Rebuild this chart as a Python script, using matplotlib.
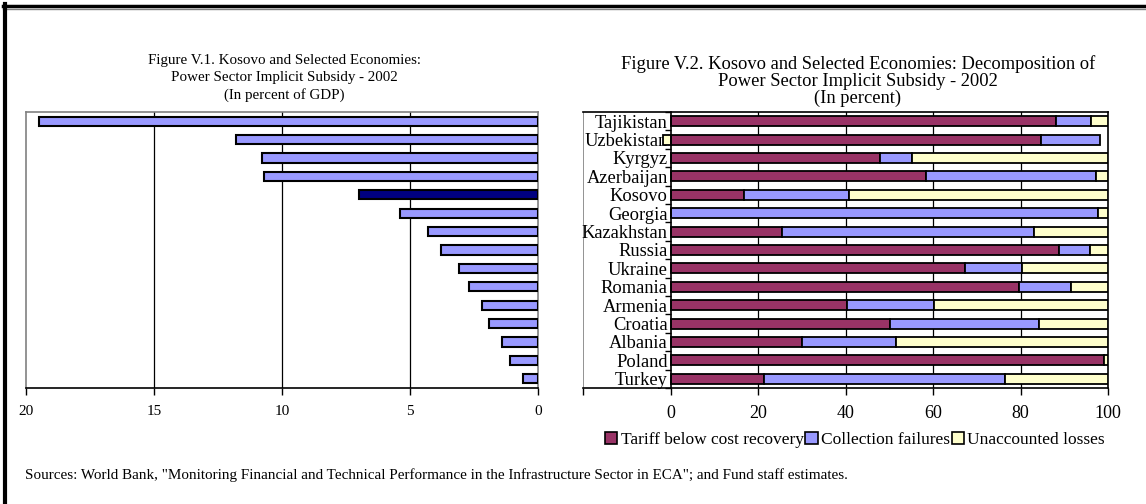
import matplotlib.pyplot as plt
from matplotlib.lines import Line2D
from matplotlib.patches import Patch
import numpy as np

plt.rcParams['font.family'] = ['Liberation Serif', 'DejaVu Serif']

countries = ["Tajikistan", "Uzbekistan", "Kyrgyz", "Azerbaijan", "Kosovo",
             "Georgia", "Kazakhstan", "Russia", "Ukraine", "Romania",
             "Armenia", "Croatia", "Albania", "Poland", "Turkey"]

# Figure V.1: subsidy in percent of GDP (same country order, labels hidden)
subsidy_gdp = [19.5, 11.8, 10.8, 10.7, 7.0, 5.4, 4.3, 3.8, 3.1, 2.7,
               2.2, 1.9, 1.4, 1.1, 0.6]
highlight = "Kosovo"

# Figure V.2: decomposition, in percent
tariff = [88.0, 84.6, 47.8, 58.5, 16.8, 0.0, 25.4, 88.9, 67.3, 79.7,
          40.3, 50.2, 30.1, 99.1, 21.4]
collection = [8.2, 13.6, 7.3, 38.7, 23.9, 97.6, 57.7, 7.0, 13.0, 11.8,
              19.9, 34.0, 21.5, 0.0, 55.0]
unaccounted = [3.8, -1.8, 44.9, 2.8, 59.3, 2.4, 16.9, 4.1, 19.7, 8.5,
               39.8, 15.8, 48.4, 0.9, 23.6]
series_names = ["Tariff below cost recovery", "Collection failures",
                "Unaccounted losses"]
series_colors = ["#993366", "#9999FF", "#FFFFCC"]

W, H = 1146, 504
fig = plt.figure(figsize=(W / 100, H / 100), dpi=100)


def fx(px):
    return px / W


def fy(py):
    return 1 - py / H


top_px, bot_px = 112, 388
grey = "#808080"

# ---- left chart
ax1 = fig.add_axes([fx(26), fy(bot_px), fx(538 - 26), (bot_px - top_px) / H])
y = np.arange(len(countries))
colors1 = ["#000080" if c == highlight else "#9999FF" for c in countries]
ax1.barh(y, subsidy_gdp, height=0.5, color=colors1, edgecolor="black",
         linewidth=1.5, zorder=3)
ax1.set_xlim(20, 0)
ax1.set_ylim(len(countries) - 0.5, -0.5)
ax1.set_yticks([])
ax1.set_xticks([20, 15, 10, 5, 0])
ax1.set_xticklabels(["20", "15", "10", "5", "0"], fontsize=11)
ax1.tick_params(axis="x", direction="out", length=5, width=1, pad=7)
for v in [15, 10, 5]:
    ax1.axvline(v, color="black", linewidth=0.9, zorder=1)
for s in ["top", "left", "right"]:
    ax1.spines[s].set_color(grey)
    ax1.spines[s].set_linewidth(1.2)
ax1.spines["bottom"].set_linewidth(1.2)
fig.text(fx(284), fy(54), "Figure V.1. Kosovo and Selected Economies:\n"
         "Power Sector Implicit Subsidy - 2002\n(In percent of GDP)",
         ha="center", va="top", fontsize=10.8, linespacing=1.4)

# ---- right chart
ax2 = fig.add_axes([fx(583), fy(bot_px), fx(1108 - 583), (bot_px - top_px) / H])
pos_left = np.zeros(len(countries))
neg_left = np.zeros(len(countries))
for vals, col in zip([tariff, collection, unaccounted], series_colors):
    vals = np.array(vals)
    left = np.where(vals >= 0, pos_left, neg_left)
    ax2.barh(y, vals, left=left, height=0.55, color=col, edgecolor="black",
             linewidth=1.3, zorder=3)
    pos_left = pos_left + np.where(vals >= 0, vals, 0)
    neg_left = neg_left + np.where(vals < 0, vals, 0)
ax2.set_xlim(-20, 100)
ax2.set_ylim(len(countries) - 0.5, -0.5)
ax2.set_xticks([-20, 0, 20, 40, 60, 80, 100])
ax2.set_xticklabels(["", "0", "20", "40", "60", "80", "100"], fontsize=13)
ax2.tick_params(axis="x", direction="out", length=5, width=1, pad=7)
for v in [20, 40, 60, 80]:
    ax2.axvline(v, color="black", linewidth=0.9, zorder=1)
ax2.spines["left"].set_position(("data", 0))
ax2.spines["left"].set_zorder(4)
ax2.spines["left"].set_linewidth(1.2)
ax2.set_yticks(y)
ax2.set_yticklabels(countries, fontsize=13.3)
ax2.set_yticks(np.arange(len(countries) + 1) - 0.5, minor=True)
ax2.tick_params(axis="y", which="major", length=0, pad=2)
ax2.tick_params(axis="y", which="minor", direction="out", length=4, width=1)
ax2.axvline(-20, color=grey, linewidth=1.2, zorder=1)
ax2.spines["top"].set_linewidth(1.2)
ax2.spines["right"].set_linewidth(1.2)
ax2.spines["bottom"].set_linewidth(1.2)
fig.text(fx(858), fy(55), "Figure V.2. Kosovo and Selected Economies: Decomposition of\n"
         "Power Sector Implicit Subsidy - 2002\n(In percent)",
         ha="center", va="top", fontsize=13.3, linespacing=1.0)

handles = [Patch(facecolor=c, edgecolor="black", linewidth=1.2) for c in series_colors]
fig.legend(handles, series_names, loc="center", bbox_to_anchor=(fx(855), fy(440)),
           ncol=3, frameon=False, fontsize=12.5, handlelength=0.7,
           handleheight=0.7, handletextpad=0.2, columnspacing=0.1,
           borderaxespad=0)

fig.text(fx(25), fy(475), 'Sources: World Bank, "Monitoring Financial and Technical '
         'Performance in the Infrastructure Sector in ECA"; and Fund staff estimates.',
         ha="left", va="center", fontsize=10.9)

# outer frame (top and left edges)
fig.add_artist(Line2D([fx(3), 1], [fy(6), fy(6)], color="black", linewidth=2.5))
fig.add_artist(Line2D([fx(3), 1], [fy(9), fy(9)], color=grey, linewidth=1.0))
fig.add_artist(Line2D([fx(5), fx(5)], [fy(4), 0], color="black", linewidth=3))

fig.savefig("out.png", dpi=100)
